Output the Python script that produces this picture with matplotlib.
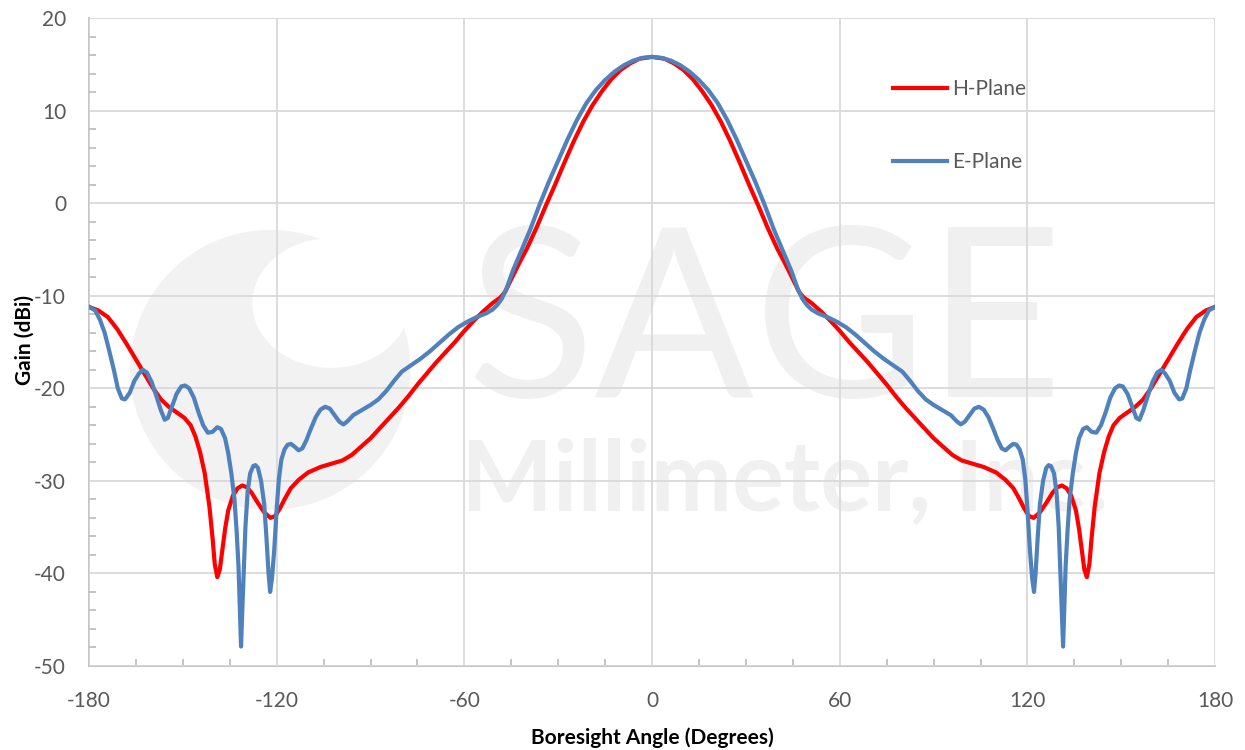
import matplotlib
matplotlib.use("Agg")
import matplotlib.pyplot as plt
import matplotlib.patches as patches
import numpy as np

# H-Plane pattern (angle in degrees, gain in dBi)
h_angle = [-180, -177, -174, -171, -168, -165, -162, -159.5, -157, -154.5,
           -152, -149.5, -147.5, -146, -144.5, -143, -141.5, -140.5, -139.8, -139,
           -138.2, -137.5, -136.5, -135.5, -134, -132.5, -131, -129.5, -128, -126,
           -124, -122, -120.5, -119, -117.5, -115.5, -113, -110, -106, -102,
           -99, -96, -93, -90, -87, -84, -81, -78, -75, -72,
           -69, -66, -63, -60, -57, -54, -51, -48.5, -47, -45,
           -42.5, -40, -37, -34, -31, -28, -25, -22, -19, -16,
           -13, -10, -7, -4, 0,
           4, 7, 10, 13, 16, 19, 22, 25, 28, 31,
           34, 37, 40, 42.5, 45, 47, 48.5, 51, 54, 57,
           60, 63, 66, 69, 72, 75, 78, 81, 84, 87,
           90, 93, 96, 99, 102, 106, 110, 113, 115.5, 117.5,
           119, 120.5, 122, 124, 126, 128, 129.5, 131, 132.5, 134,
           135.5, 136.5, 137.5, 138.2, 139, 139.8, 140.5, 141.5, 143, 144.5,
           146, 147.5, 149.5, 152, 154.5, 157, 159.5, 162, 165, 168,
           171, 174, 177, 180]
h_gain = [-11.2, -11.6, -12.3, -13.6, -15.2, -16.9, -18.6, -20.0, -21.2, -22.0,
          -22.6, -23.2, -24.0, -25.2, -26.9, -29.2, -32.8, -36.2, -39.0, -40.4,
          -39.6, -37.8, -35.2, -33.2, -31.6, -30.8, -30.5, -30.7, -31.3, -32.4,
          -33.4, -34.0, -33.8, -33.0, -32.0, -30.8, -29.9, -29.1, -28.5, -28.1,
          -27.8, -27.2, -26.3, -25.4, -24.3, -23.2, -22.1, -20.9, -19.6, -18.4,
          -17.2, -16.1, -15.0, -13.8, -12.7, -11.7, -10.8, -10.2, -9.6, -8.2,
          -6.5, -4.9, -2.7, -0.3, 2.0, 4.4, 6.7, 8.8, 10.6, 12.1,
          13.4, 14.4, 15.1, 15.6, 15.8,
          15.6, 15.1, 14.4, 13.4, 12.1, 10.6, 8.8, 6.7, 4.4, 2.0,
          -0.3, -2.7, -4.9, -6.5, -8.2, -9.6, -10.2, -10.8, -11.7, -12.7,
          -13.8, -15.0, -16.1, -17.2, -18.4, -19.6, -20.9, -22.1, -23.2, -24.3,
          -25.4, -26.3, -27.2, -27.8, -28.1, -28.5, -29.1, -29.9, -30.8, -32.0,
          -33.0, -33.8, -34.0, -33.4, -32.4, -31.3, -30.7, -30.5, -30.8, -31.6,
          -33.2, -35.2, -37.8, -39.6, -40.4, -39.0, -36.2, -32.8, -29.2, -26.9,
          -25.2, -24.0, -23.2, -22.6, -22.0, -21.2, -20.0, -18.6, -16.9, -15.2,
          -13.6, -12.3, -11.6, -11.2]

# E-Plane pattern
e_angle = [-180, -178, -176.5, -175, -173.5, -172, -170.8, -169.5, -168.5, -167,
           -165.5, -164, -162.8, -161.5, -160, -158.5, -157, -155.8, -154.8, -153.5,
           -152, -150.5, -149.3, -148, -146.5, -145, -143.5, -142, -140.5, -139,
           -137.8, -136.5, -135.5, -134.5, -133.5, -132.8, -132.2, -131.8, -131.4, -131.0,
           -130.5, -130, -129.3, -128.5, -127.5, -126.8, -126, -125, -124, -123.3,
           -122.6, -122.1, -121.5, -120.8, -120, -119.3, -118.5, -117.5, -116.5, -115.5,
           -114.3, -113, -111.8, -110.5, -109, -107.5, -106, -104.5, -103, -101.5,
           -100, -98.7, -97.5, -95.5, -93, -90, -87.5, -85, -82.5, -80,
           -77, -74, -71, -68, -65, -62, -59, -56, -53, -51,
           -49.5, -48, -46.5, -44.5, -42, -39, -36, -33, -30, -27,
           -24, -21, -18, -15, -12, -9, -6, -3, 0,
           3, 6, 9, 12, 15, 18, 21, 24,
           27, 30, 33, 36, 39, 42, 44.5, 46.5, 48, 49.5,
           51, 53, 56, 59, 62, 65, 68, 71, 74, 77,
           80, 82.5, 85, 87.5, 90, 93, 95.5, 97.5, 98.7, 100,
           101.5, 103, 104.5, 106, 107.5, 109, 110.5, 111.8, 113, 114.3,
           115.5, 116.5, 117.5, 118.5, 119.3, 120, 120.8, 121.5, 122.1, 122.6,
           123.3, 124, 125, 126, 126.8, 127.5, 128.5, 129.3, 130, 130.5,
           131.0, 131.4, 131.8, 132.2, 132.8, 133.5, 134.5, 135.5, 136.5, 137.8,
           139, 140.5, 142, 143.5, 145, 146.5, 148, 149.3, 150.5, 152,
           153.5, 154.8, 155.8, 157, 158.5, 160, 161.5, 162.8, 164, 165.5,
           167, 168.5, 169.5, 170.8, 172, 173.5, 175, 176.5, 178, 180]
e_gain = [-11.2, -11.6, -12.6, -14.0, -16.0, -18.1, -20.0, -21.1, -21.2, -20.5,
          -19.2, -18.4, -18.0, -18.3, -19.3, -20.8, -22.4, -23.4, -23.2, -22.0,
          -20.6, -19.8, -19.7, -20.0, -21.0, -22.6, -24.0, -24.8, -24.7, -24.2,
          -24.4, -25.4, -27.0, -29.2, -32.0, -35.5, -39.3, -43.5, -47.9, -44.0,
          -39.5, -35.0, -31.2, -29.2, -28.4, -28.3, -28.6, -30.0, -32.5, -36.0,
          -40.0, -42.0, -40.5, -37.5, -33.0, -29.8, -27.7, -26.6, -26.1, -26.0,
          -26.3, -26.7, -26.5, -25.6, -24.3, -23.1, -22.3, -22.0, -22.2, -22.9,
          -23.6, -23.9, -23.6, -22.9, -22.4, -21.8, -21.2, -20.3, -19.2, -18.2,
          -17.5, -16.8, -16.0, -15.1, -14.2, -13.4, -12.8, -12.3, -11.9, -11.5,
          -11.0, -10.3, -9.2, -7.3, -5.3, -2.9, -0.2, 2.3, 4.6, 6.9,
          9.0, 10.8, 12.2, 13.3, 14.2, 14.9, 15.4, 15.7, 15.8,
          15.7, 15.4, 14.9, 14.2, 13.3, 12.2, 10.8, 9.0,
          6.9, 4.6, 2.3, -0.2, -2.9, -5.3, -7.3, -9.2, -10.3, -11.0,
          -11.5, -11.9, -12.3, -12.8, -13.4, -14.2, -15.1, -16.0, -16.8, -17.5,
          -18.2, -19.2, -20.3, -21.2, -21.8, -22.4, -22.9, -23.6, -23.9, -23.6,
          -22.9, -22.2, -22.0, -22.3, -23.1, -24.3, -25.6, -26.5, -26.7, -26.3,
          -26.0, -26.1, -26.6, -27.7, -29.8, -33.0, -37.5, -40.5, -42.0, -40.0,
          -36.0, -32.5, -30.0, -28.6, -28.3, -28.4, -29.2, -31.2, -35.0, -39.5,
          -44.0, -47.9, -43.5, -39.3, -35.5, -32.0, -29.2, -27.0, -25.4, -24.4,
          -24.2, -24.7, -24.8, -24.0, -22.6, -21.0, -20.0, -19.7, -19.8, -20.6,
          -22.0, -23.2, -23.4, -22.4, -20.8, -19.3, -18.3, -18.0, -18.4, -19.2,
          -20.5, -21.2, -21.1, -20.0, -18.1, -16.0, -14.0, -12.6, -11.6, -11.2]

x_ticks = [-180, -120, -60, 0, 60, 120, 180]
y_ticks = [-50, -40, -30, -20, -10, 0, 10, 20]

plt.rcParams['font.family'] = ['Lato', 'DejaVu Sans']
plt.rcParams['axes.unicode_minus'] = False

fig = plt.figure(figsize=(12.45, 7.5), dpi=100)
ax = fig.add_axes([0.0715, 0.112, 0.9045, 0.864])

# faint watermark behind the plot
ax.add_patch(patches.Ellipse((0.161, 0.457), 0.249, 0.432, transform=ax.transAxes,
                             facecolor='#f2f2f2', edgecolor='none', zorder=0))
ax.add_patch(patches.Ellipse((0.215, 0.56), 0.14, 0.2, transform=ax.transAxes,
                             facecolor='white', edgecolor='none', zorder=0))
ax.text(0.60, 0.549, "SAGE", transform=ax.transAxes, fontsize=170, color='#f0f0f0',
        ha='center', va='center_baseline', zorder=0)
ax.text(0.618, 0.295, "Millimeter, Inc.", transform=ax.transAxes, fontsize=70,
        color='#f0f0f0', ha='center', va='center_baseline', fontweight='bold', zorder=0)

ax.plot(h_angle, h_gain, color='#FF0000', linewidth=3, label='H-Plane', zorder=3,
        solid_joinstyle='round')
ax.plot(e_angle, e_gain, color='#4F81BD', linewidth=3, label='E-Plane', zorder=4,
        solid_joinstyle='round')

ax.set_xlim(-180, 180)
ax.set_ylim(-50, 20)
ax.set_xticks(x_ticks)
ax.set_yticks(y_ticks)
ax.set_xticks(np.arange(-180, 181, 15), minor=True)
ax.set_yticks(np.arange(-50, 21, 2), minor=True)
ax.grid(True, which='major', color='#d9d9d9', linewidth=1.3, zorder=1)
ax.set_axisbelow(False)
for line in ax.get_xgridlines() + ax.get_ygridlines():
    line.set_zorder(1)

ax.tick_params(which='major', length=0, labelsize=15, labelcolor='#595959')
ax.tick_params(which='minor', direction='in', length=5, color='#bfbfbf', width=1.3)
ax.tick_params(axis='x', which='major', pad=18)
ax.tick_params(axis='y', which='major', pad=16.5)
for side in ['top', 'right']:
    ax.spines[side].set_visible(False)
for side in ['left', 'bottom']:
    ax.spines[side].set_color('#bfbfbf')
    ax.spines[side].set_linewidth(1.3)

ax.set_xlabel('Boresight Angle (Degrees)', fontsize=15, fontweight='bold', labelpad=12)
ax.set_ylabel('Gain (dBi)', fontsize=15, fontweight='bold', va='center')
ax.yaxis.set_label_coords(-0.0568, 0.503)

ax.legend(loc='upper left', bbox_to_anchor=(0.714, 0.906), frameon=False,
          fontsize=15, handlelength=2.6, handletextpad=0.25, labelspacing=2.55,
          borderpad=0, borderaxespad=0, labelcolor='#595959')

fig.savefig('out.png', dpi=100)
